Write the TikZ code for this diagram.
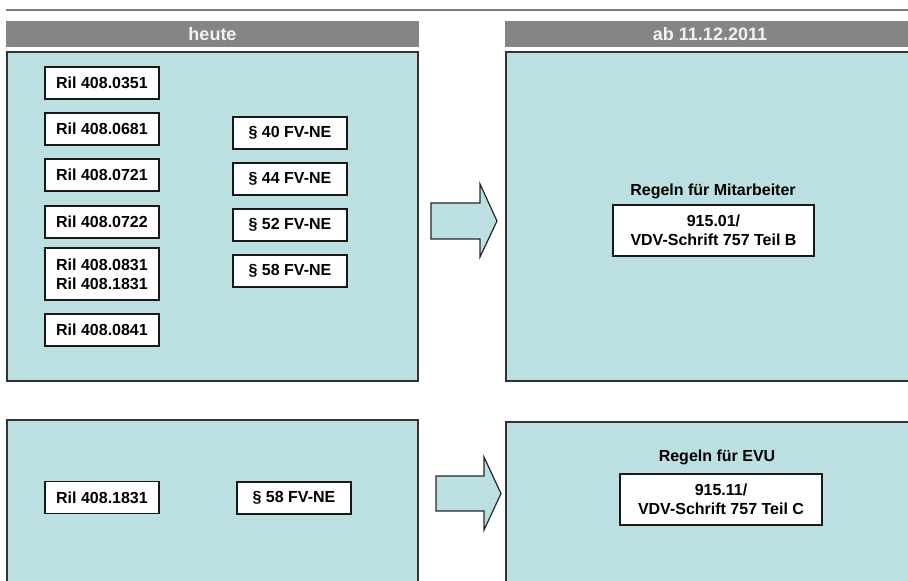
\documentclass[tikz,border=0pt]{standalone}
\usepackage{fontspec}
\setmainfont{Liberation Sans}
\usetikzlibrary{positioning}

\definecolor{panelblue}{HTML}{BCDFE2}
\definecolor{headgray}{HTML}{858585}
\definecolor{rulegray}{HTML}{707D87}

\begin{document}
\begin{tikzpicture}[x=1pt,y=-1pt,
    panel/.style={draw=black!80,line width=1.5pt,fill=panelblue},
    header/.style={fill=headgray,text=white!95!black,inner sep=0pt,minimum height=26pt,
        font=\fontsize{18}{20}\selectfont\bfseries},
    rulebox/.style={draw=black!90,line width=1.2pt,fill=white,align=center,inner sep=0pt,
        minimum width=114pt,minimum height=32pt,font=\fontsize{16}{19}\selectfont\bfseries},
    newbox/.style={rulebox,minimum width=201pt,minimum height=51pt},
    caption/.style={font=\fontsize{16}{19}\selectfont\bfseries},
    bigarrow/.style={draw=black!85,line width=1.2pt,fill=panelblue,line join=miter}]
    \useasboundingbox (0,0) rectangle (908,581);
    \clip (0,0) rectangle (908,581);
    \draw[rulegray,line width=2.5pt] (6,10) -- (908,10);

    % headers
    \node[header,minimum width=413pt] (heute) at (212.5,34) {heute};
    \node[header,minimum width=410pt] (ab) at (710,34) {ab 11.12.2011};

    % panels
    \draw[panel] (7,52) rectangle (418,381);
    \draw[panel] (506,52) rectangle (915,381);
    \draw[panel] (7,420) rectangle (418,590);
    \draw[panel] (506,422) rectangle (915,590);

    % heute, oben
    \node[rulebox] (r0351) at (102,83) {Ril 408.0351};
    \node[rulebox,below=12.8pt of r0351] (r0681) {Ril 408.0681};
    \node[rulebox,below=12.8pt of r0681] (r0721) {Ril 408.0721};
    \node[rulebox,below=13.8pt of r0721] (r0722) {Ril 408.0722};
    \node[rulebox,minimum height=52pt,below=8.8pt of r0722] (r0831) {Ril 408.0831\\Ril 408.1831};
    \node[rulebox,below=12.8pt of r0831] (r0841) {Ril 408.0841};

    \node[rulebox] (p40) at (290,133) {\S\ 40 FV-NE};
    \node[rulebox,below=12.8pt of p40] (p44) {\S\ 44 FV-NE};
    \node[rulebox,below=12.8pt of p44] (p52) {\S\ 52 FV-NE};
    \node[rulebox,below=12.8pt of p52] (p58) {\S\ 58 FV-NE};

    % heute, unten
    \node[rulebox] (r1831) at (102,497.5) {Ril 408.1831};
    \node[rulebox] (p58b) at (294,498) {\S\ 58 FV-NE};

    % arrows
    \draw[bigarrow] (431,203) -- (480,203) -- (480,184) -- (497,221) -- (480,257)
        -- (480,239) -- (431,239) -- cycle;
    \draw[bigarrow] (436,476) -- (484,476) -- (484,457) -- (501,493.5) -- (484,530)
        -- (484,511) -- (436,511) -- cycle;

    % ab 11.12.2011
    \node[caption] (mitarb) at (713,191) {Regeln f\"ur Mitarbeiter};
    \node[newbox] (b91501) at (713.5,230.5) {915.01/\\VDV-Schrift 757 Teil B};
    \node[caption] (evu) at (717,457) {Regeln f\"ur EVU};
    \node[newbox,minimum width=202pt] (b91511) at (721,499.5) {915.11/\\VDV-Schrift 757 Teil C};
\end{tikzpicture}
\end{document}
